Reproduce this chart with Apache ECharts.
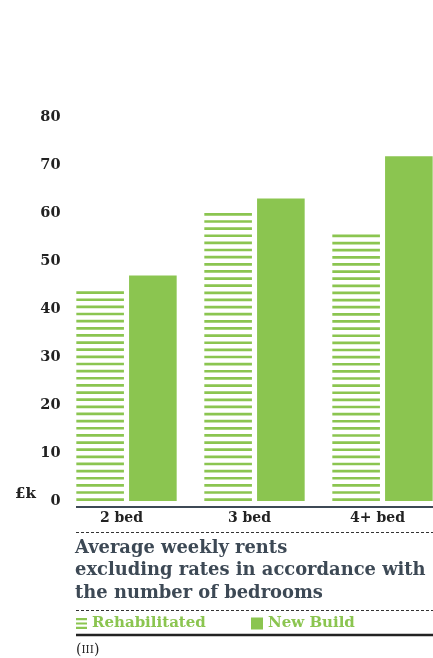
<!DOCTYPE html>
<html>
<head>
<meta charset="utf-8">
<title>Average weekly rents by number of bedrooms</title>
<script src="https://cdn.jsdelivr.net/npm/echarts@6/dist/echarts.min.js"></script>
<style>
  html, body { margin: 0; padding: 0; background: #ffffff; }
  #chart { width: 433px; height: 658px; }
</style>
</head>
<body>
<div id="chart"></div>
<script>
// Bedroom categories and weekly rents (£)
const categories = ['2 bed', '3 bed', '4+ bed'];
const rehabilitated = [43.7, 60, 55.5];
const newBuild = [47, 63, 71.8];
const yTicks = { min: 0, max: 80, interval: 10 };

const GREEN = '#8bc550';
const INK = '#3d4955';
const SERIF = '"DejaVu Serif", "Liberation Serif", serif';

// Bar geometry as fractions of a category band
const BAR_FRAC = 0.372;
const GAP_FRAC = 0.04;
const STRIPE_H = 2.7;
const STRIPE_PITCH = 7.15;

// Striped column: horizontal rules stacked from the baseline up to the value
function renderStriped(params, api) {
  const idx = api.value(0);
  const val = api.value(1);
  const base = api.coord([idx, 0]);
  const top = api.coord([idx, val]);
  const band = api.size([1, 0])[0];
  const w = band * BAR_FRAC;
  const x = base[0] - band * GAP_FRAC / 2 - w;
  const len = base[1] - top[1];
  const n = Math.max(1, Math.round((len - STRIPE_H) / STRIPE_PITCH) + 1);
  const pitch = n > 1 ? (len - STRIPE_H) / (n - 1) : 0;
  const children = [];
  for (let k = 0; k < n; k++) {
    children.push({
      type: 'rect',
      shape: { x: x, y: top[1] + k * pitch, width: w, height: STRIPE_H },
      style: { fill: GREEN }
    });
  }
  return { type: 'group', children: children };
}

// Solid column to the right of the centre
function renderSolid(params, api) {
  const idx = api.value(0);
  const val = api.value(1);
  const base = api.coord([idx, 0]);
  const top = api.coord([idx, val]);
  const band = api.size([1, 0])[0];
  const w = band * BAR_FRAC;
  const x = base[0] + band * GAP_FRAC / 2;
  return {
    type: 'rect',
    shape: { x: x, y: top[1], width: w, height: base[1] - top[1] },
    style: { fill: GREEN }
  };
}

const chart = echarts.init(document.getElementById('chart'), null, { renderer: 'canvas' });

const legendText = {
  color: GREEN,
  fontFamily: SERIF,
  fontWeight: 'bold',
  fontSize: 15
};

chart.setOption({
  animation: false,
  backgroundColor: '#ffffff',
  title: {
    text: 'Average weekly rents\nexcluding rates in accordance with\nthe number of bedrooms',
    left: 75,
    top: 537,
    padding: 0,
    textStyle: {
      color: INK,
      fontFamily: SERIF,
      fontWeight: 'bold',
      fontSize: 17.9,
      lineHeight: 22.5
    }
  },
  legend: [
    {
      data: [{ name: 'Rehabilitated', icon: 'path://M0,0H12V2.4H0ZM0,4.8H12V7.2H0ZM0,9.6H12V12H0Z' }],
      left: 76, top: 616, padding: 0,
      itemWidth: 11, itemHeight: 12,
      selectedMode: false,
      textStyle: legendText
    },
    {
      data: [{ name: 'New Build', icon: 'rect' }],
      left: 251, top: 616, padding: 0,
      itemWidth: 12, itemHeight: 12,
      selectedMode: false,
      textStyle: legendText
    }
  ],
  grid: {
    left: 62.5, width: 384, top: 117, bottom: 157,
    containLabel: false,
    outerBoundsMode: 'none'
  },
  xAxis: {
    type: 'category',
    data: categories,
    axisLine: { show: false },
    axisTick: { show: false },
    splitLine: { show: false },
    axisLabel: {
      margin: 10,
      color: '#222',
      fontFamily: SERIF,
      fontWeight: 'bold',
      fontSize: 14,
      padding: [0, 10, 0, 0]
    }
  },
  yAxis: {
    type: 'value',
    min: yTicks.min,
    max: yTicks.max,
    interval: yTicks.interval,
    axisLine: { show: false },
    axisTick: { show: false },
    splitLine: { show: false },
    axisLabel: {
      margin: 2,
      color: '#222',
      fontFamily: SERIF,
      fontWeight: 'bold',
      fontSize: 14.5,
      verticalAlign: 'middle',
      padding: [0, 0, 10, 0]
    }
  },
  series: [
    {
      name: 'Rehabilitated',
      type: 'custom',
      itemStyle: { color: GREEN },
      renderItem: renderStriped,
      encode: { x: 0, y: 1 },
      data: rehabilitated.map((v, i) => [i, v])
    },
    {
      name: 'New Build',
      type: 'custom',
      itemStyle: { color: GREEN },
      renderItem: renderSolid,
      encode: { x: 0, y: 1 },
      data: newBuild.map((v, i) => [i, v])
    }
  ],
  graphic: [
    // currency unit beside the zero tick
    {
      type: 'text', left: 15, top: 487,
      style: { text: '£k', fill: '#222', font: 'bold 15px ' + SERIF }
    },
    // baseline rule under the columns
    {
      type: 'line',
      shape: { x1: 76, y1: 507, x2: 433, y2: 507 },
      style: { stroke: INK, lineWidth: 2.2 }
    },
    // dashed separators
    {
      type: 'line',
      shape: { x1: 76, y1: 532.5, x2: 433, y2: 532.5 },
      style: { stroke: '#333', lineWidth: 1, lineDash: [3, 2] }
    },
    {
      type: 'line',
      shape: { x1: 76, y1: 610.5, x2: 433, y2: 610.5 },
      style: { stroke: '#333', lineWidth: 1, lineDash: [3, 2] }
    },
    // closing rule
    {
      type: 'line',
      shape: { x1: 76, y1: 635, x2: 433, y2: 635 },
      style: { stroke: '#222', lineWidth: 2.6 }
    },
    // figure reference
    {
      type: 'text', left: 76, top: 643,
      style: {
        text: '{p|(}{n|III}{p|)}',
        rich: {
          p: { fill: '#222', font: '14px ' + SERIF },
          n: { fill: '#222', font: '10.5px ' + SERIF }
        }
      }
    }
  ]
});
</script>
</body>
</html>
